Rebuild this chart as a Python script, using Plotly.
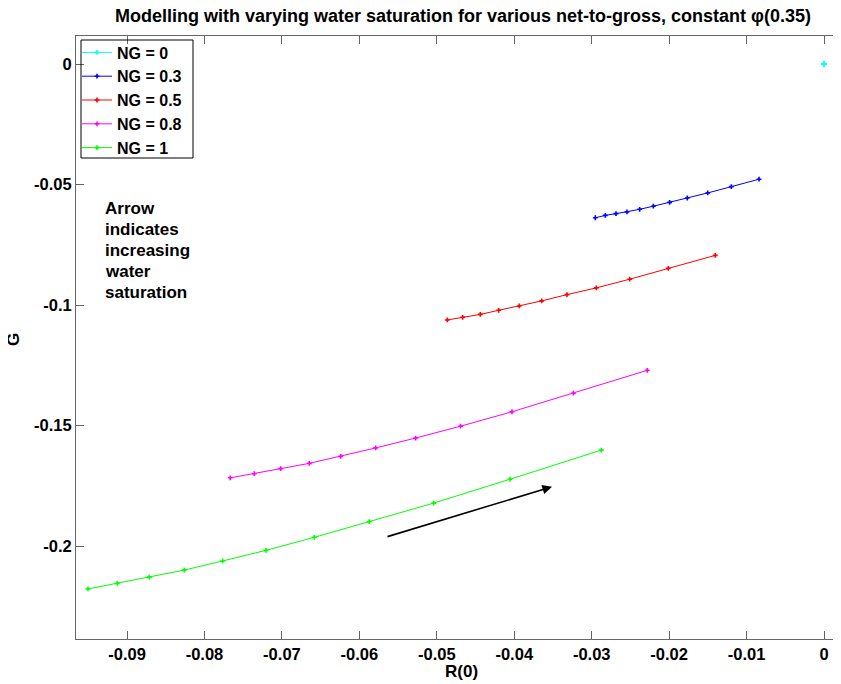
import plotly.graph_objects as go

# ---- data ----
ng_labels = ["NG = 0", "NG = 0.3", "NG = 0.5", "NG = 0.8", "NG = 1"]
colors = ["#00FFFF", "#0000FF", "#FF0000", "#FF00FF", "#00FF00"]

r_ng0 = [0.0] * 11
g_ng0 = [0.0] * 11

r_ng03 = [-0.02953, -0.02824, -0.02686, -0.02544, -0.02380, -0.02204, -0.01993, -0.01765, -0.01502, -0.01197, -0.00839]
g_ng03 = [-0.0638, -0.0628, -0.0621, -0.0614, -0.0603, -0.0590, -0.0574, -0.0556, -0.0535, -0.0509, -0.0478]

r_ng05 = [-0.04864, -0.04666, -0.04438, -0.04201, -0.03935, -0.03645, -0.03319, -0.02940, -0.02509, -0.02011, -0.01404]
g_ng05 = [-0.1062, -0.1051, -0.1039, -0.1022, -0.1004, -0.0983, -0.0957, -0.0929, -0.0893, -0.0848, -0.0794]

r_ng08 = [-0.07667, -0.07357, -0.07016, -0.06646, -0.06241, -0.05789, -0.05273, -0.04694, -0.04029, -0.03237, -0.02282]
g_ng08 = [-0.1717, -0.1700, -0.1679, -0.1657, -0.1628, -0.1593, -0.1552, -0.1503, -0.1443, -0.1366, -0.1271]

r_ng1 = [-0.09504, -0.09126, -0.08713, -0.08261, -0.07765, -0.07206, -0.06582, -0.05872, -0.05040, -0.04055, -0.02876]
g_ng1 = [-0.2178, -0.2155, -0.2129, -0.2100, -0.2062, -0.2018, -0.1964, -0.1899, -0.1822, -0.1723, -0.1602]

x_tickvals = [-0.09, -0.08, -0.07, -0.06, -0.05, -0.04, -0.03, -0.02, -0.01, 0.0]
x_ticktext = ["-0.09", "-0.08", "-0.07", "-0.06", "-0.05", "-0.04", "-0.03", "-0.02", "-0.01", "0"]
y_tickvals = [-0.2, -0.15, -0.1, -0.05, 0.0]
y_ticktext = ["-0.2", "-0.15", "-0.1", "-0.05", "0"]

arrow_start = (-0.05656, -0.1963)
arrow_end = (-0.03512, -0.1754)

title_text = "Modelling with varying water saturation for various net-to-gross, constant φ(0.35)"
note_lines = ["Arrow", "indicates", "increasing", "water", "saturation"]
note_x = -0.0931
note_y = [-0.0601, -0.0688, -0.0775, -0.0862, -0.0949]
x_title = "R(0)"
y_title = "G"

series_r = [r_ng0, r_ng03, r_ng05, r_ng08, r_ng1]
series_g = [g_ng0, g_ng03, g_ng05, g_ng08, g_ng1]

FONT = "Liberation Sans, Arial, Helvetica, sans-serif"
AX = "#666666"
W, H = 841, 684
OFF = 8  # page offset of the plot div inside the browser window
ML, MR, MT, MB = 76 - OFF, 0, 36 - OFF, H - (639 - OFF)
PW, PH = W - ML - MR, H - MT - MB


def px(sx):
    """window x pixel -> paper x"""
    return (sx - OFF - ML) / PW


def py(sy):
    """window y pixel -> paper y"""
    return 1 - (sy - OFF - MT) / PH


def bold(size):
    return dict(family=FONT, size=size, color="black", weight="bold")


fig = go.Figure()
for name, col, rx, gy in zip(ng_labels, colors, series_r, series_g):
    fig.add_trace(go.Scatter(
        x=rx, y=gy, mode="lines+markers", name=name,
        line=dict(color=col, width=1),
        marker=dict(color=col, size=4, symbol="cross"),
    ))

fig.add_annotation(
    x=arrow_end[0], y=arrow_end[1], ax=arrow_start[0], ay=arrow_start[1],
    xref="x", yref="y", axref="x", ayref="y",
    showarrow=True, arrowhead=2, arrowsize=1.2, arrowwidth=1.6, arrowcolor="black",
    text="",
)
for line_text, ly in zip(note_lines, note_y):
    fig.add_annotation(
        x=note_x, y=ly, xref="x", yref="y", xanchor="left", yanchor="middle",
        text=line_text, showarrow=False, align="left", font=bold(17),
    )
fig.add_annotation(
    x=px(461), y=py(671), xref="paper", yref="paper",
    xanchor="center", yanchor="middle", text=x_title, showarrow=False, font=bold(17),
)
fig.add_annotation(
    x=px(13), y=py(340), xref="paper", yref="paper",
    xanchor="center", yanchor="middle", text=y_title, showarrow=False,
    textangle=-90, font=bold(17),
)

# legend frame
fig.add_shape(
    type="rect", xref="paper", yref="paper",
    x0=px(81), x1=px(193), y0=py(158), y1=py(40),
    line=dict(color="black", width=1), fillcolor="rgba(0,0,0,0)", layer="above",
)

fig.update_layout(
    width=W, height=H,
    margin=dict(l=ML, r=MR, t=MT, b=MB, autoexpand=False),
    paper_bgcolor="white", plot_bgcolor="white",
    font=bold(16),
    title=dict(text=title_text, x=(463 - OFF) / W, xref="container", xanchor="center",
               y=1 - (16 - OFF) / H, yref="container", yanchor="middle", font=bold(18)),
    showlegend=True,
    legend=dict(x=px(77), y=py(35.5), xanchor="left", yanchor="top",
                borderwidth=0, bgcolor="rgba(0,0,0,0)",
                font=bold(16), itemwidth=30, tracegroupgap=0),
)

fig.update_xaxes(
    range=[(76 - 824) / 7744, (849 - 824) / 7744],
    tickvals=x_tickvals, ticktext=x_ticktext,
    showgrid=False, zeroline=False, showline=True, linecolor=AX, linewidth=1,
    ticks="inside", ticklen=8, tickcolor=AX, mirror="ticks", automargin=False,
    tickfont=bold(16.5),
)
fig.update_yaxes(
    range=[(64 - 639) / 2410, (64 - 36) / 2410],
    tickvals=y_tickvals, ticktext=y_ticktext,
    showgrid=False, zeroline=False, showline=True, linecolor=AX, linewidth=1,
    ticks="inside", ticklen=8, tickcolor=AX, automargin=False,
    tickfont=bold(16.5),
)

fig.write_html("out.html")
